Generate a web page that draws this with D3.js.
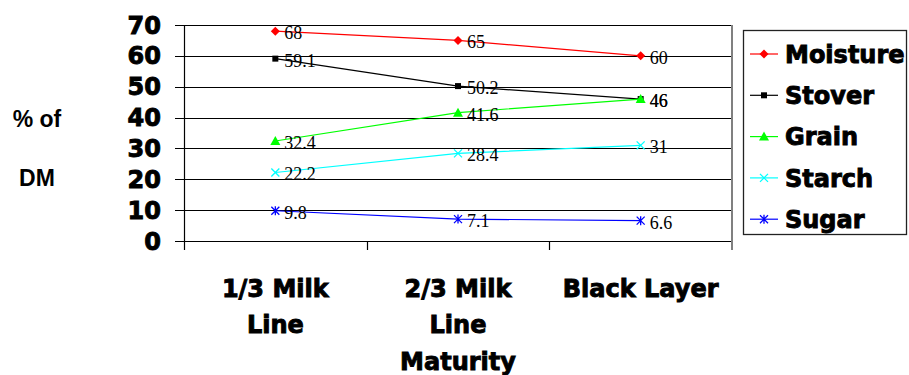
<!DOCTYPE html>
<html>
<head>
<meta charset="utf-8">
<script src="https://cdn.jsdelivr.net/npm/d3@7"></script>
<style>
  html, body { margin: 0; padding: 0; background: #fff; }
  svg { display: block; }
</style>
</head>
<body>
<svg id="chart" width="909" height="375"></svg>
<script>
// Stages of kernel maturity along the x axis
const categories = ["1/3 Milk Line", "2/3 Milk Line", "Black Layer"];
const categoryLines = [["1/3 Milk", "Line"], ["2/3 Milk", "Line"], ["Black Layer"]];

// Composition (% of DM) at each stage
const seriesNames = ["Moisture", "Stover", "Grain", "Starch", "Sugar"];
const moisture = [68, 65, 60];
const stover = [59.1, 50.2, 46];
const grain = [32.4, 41.6, 46];
const starch = [22.2, 28.4, 31];
const sugar = [9.8, 7.1, 6.6];

const yTicks = [0, 10, 20, 30, 40, 50, 60, 70];
const xTitle = "Maturity";
const yTitleLines = ["% of", "DM"];

const seriesValues = [moisture, stover, grain, starch, sugar];
const seriesColors = ["#ff0000", "#000000", "#00ff00", "#00ffff", "#0000ff"];
const seriesMarkers = ["diamond", "square", "triangle", "cross", "asterisk"];

const svg = d3.select("#chart");
const plot = { left: 184, right: 732, top: 25, bottom: 241 };

const x = d3.scaleBand().domain(categories).range([plot.left, plot.right]);
const y = d3.scaleLinear().domain([0, 70]).range([plot.bottom, plot.top]);
const cx = c => x(c) + x.bandwidth() / 2;

const heavyFont = "'DejaVu Sans', sans-serif";
const heavySize = 24;

function heavyText(sel) {
  return sel
    .attr("font-family", heavyFont)
    .attr("font-weight", "bold")
    .attr("font-size", heavySize)
    .attr("fill", "#000")
    .attr("stroke", "#000")
    .attr("stroke-width", 0.9);
}

// Horizontal gridlines with outward tick marks
svg.append("g")
  .selectAll("line")
  .data(yTicks)
  .join("line")
  .attr("x1", plot.left - 9)
  .attr("x2", plot.right - 1)
  .attr("y1", d => Math.round(y(d)) + 0.5)
  .attr("y2", d => Math.round(y(d)) + 0.5)
  .attr("stroke", "#000")
  .attr("stroke-width", 1.2);

// Y axis line
svg.append("line")
  .attr("x1", plot.left + 0.5).attr("x2", plot.left + 0.5)
  .attr("y1", plot.top).attr("y2", plot.bottom + 9)
  .attr("stroke", "#000").attr("stroke-width", 1.2);

// Category boundary ticks below the x axis
svg.append("g")
  .selectAll("line")
  .data(categories.slice(1))
  .join("line")
  .attr("x1", d => Math.round(x(d)) + 0.5)
  .attr("x2", d => Math.round(x(d)) + 0.5)
  .attr("y1", plot.bottom)
  .attr("y2", plot.bottom + 9)
  .attr("stroke", "#000").attr("stroke-width", 1.2);

// Plot area right border
svg.append("line")
  .attr("x1", plot.right).attr("x2", plot.right)
  .attr("y1", plot.top).attr("y2", plot.bottom + 9)
  .attr("stroke", "#808080").attr("stroke-width", 2);

// Y tick labels
svg.append("g")
  .selectAll("text")
  .data(yTicks)
  .join("text")
  .attr("x", 161)
  .attr("y", d => y(d))
  .attr("dy", "0.36em")
  .attr("text-anchor", "end")
  .call(heavyText)
  .text(d => d);

// Y axis title
svg.append("g")
  .selectAll("text")
  .data(yTitleLines)
  .join("text")
  .attr("x", 37)
  .attr("y", (d, i) => 127 + i * 59)
  .attr("text-anchor", "middle")
  .attr("font-family", "'Liberation Sans', Arial, sans-serif")
  .attr("font-weight", "bold")
  .attr("font-size", 23)
  .text(d => d);

// Category labels, wrapped onto two lines where needed
const catGroup = svg.append("g");
categories.forEach((c, i) => {
  categoryLines[i].forEach((line, j) => {
    catGroup.append("text")
      .attr("x", cx(c))
      .attr("y", 297 + j * 36)
      .attr("text-anchor", "middle")
      .call(heavyText)
      .text(line);
  });
});

// X axis title
svg.append("text")
  .attr("x", (plot.left + plot.right) / 2)
  .attr("y", 370)
  .attr("text-anchor", "middle")
  .call(heavyText)
  .text(xTitle);

// Marker shapes
function drawMarker(g, type, px, py, color) {
  if (type === "diamond") {
    g.append("path")
      .attr("d", `M${px},${py - 4.5}L${px + 4.5},${py}L${px},${py + 4.5}L${px - 4.5},${py}Z`)
      .attr("fill", color);
  } else if (type === "square") {
    g.append("rect")
      .attr("x", px - 3).attr("y", py - 3).attr("width", 6).attr("height", 6)
      .attr("fill", color);
  } else if (type === "triangle") {
    g.append("path")
      .attr("d", `M${px},${py - 5}L${px + 5},${py + 4}L${px - 5},${py + 4}Z`)
      .attr("fill", color);
  } else if (type === "cross") {
    g.append("path")
      .attr("d", `M${px - 4},${py - 4}L${px + 4},${py + 4}M${px - 4},${py + 4}L${px + 4},${py - 4}`)
      .attr("stroke", color).attr("stroke-width", 1.3).attr("fill", "none");
  } else if (type === "asterisk") {
    g.append("path")
      .attr("d", `M${px - 4},${py - 4}L${px + 4},${py + 4}M${px - 4},${py + 4}L${px + 4},${py - 4}M${px},${py - 4.5}L${px},${py + 4.5}`)
      .attr("stroke", color).attr("stroke-width", 1.3).attr("fill", "none");
  }
}

// Series lines and markers
const line = d3.line()
  .x((d, i) => cx(categories[i]))
  .y(d => y(d));

const seriesGroup = svg.append("g");
seriesValues.forEach((vals, s) => {
  const g = seriesGroup.append("g");
  g.append("path")
    .attr("d", line(vals))
    .attr("fill", "none")
    .attr("stroke", seriesColors[s])
    .attr("stroke-width", 1.2);
  vals.forEach((v, i) => drawMarker(g, seriesMarkers[s], cx(categories[i]), y(v), seriesColors[s]));
});

// Data labels
const labelGroup = svg.append("g");
seriesValues.forEach(vals => {
  vals.forEach((v, i) => {
    labelGroup.append("text")
      .attr("x", cx(categories[i]) + 9)
      .attr("y", y(v) + 8)
      .attr("font-family", "'Liberation Serif', 'Times New Roman', serif")
      .attr("font-size", 18)
      .attr("fill", "#000")
      .text(v);
  });
});

// Legend
const legend = svg.append("g");
legend.append("rect")
  .attr("x", 743.5).attr("y", 30.5).attr("width", 163).attr("height", 204)
  .attr("fill", "#fff").attr("stroke", "#222").attr("stroke-width", 1.3);
seriesNames.forEach((name, s) => {
  const ly = 54 + s * 41.3;
  legend.append("line")
    .attr("x1", 750).attr("x2", 778).attr("y1", ly).attr("y2", ly)
    .attr("stroke", seriesColors[s]).attr("stroke-width", 1.2);
  drawMarker(legend, seriesMarkers[s], 764, ly, seriesColors[s]);
  legend.append("text")
    .attr("x", 785)
    .attr("y", ly)
    .attr("dy", "0.36em")
    .call(heavyText)
    .text(name);
});
</script>
</body>
</html>
